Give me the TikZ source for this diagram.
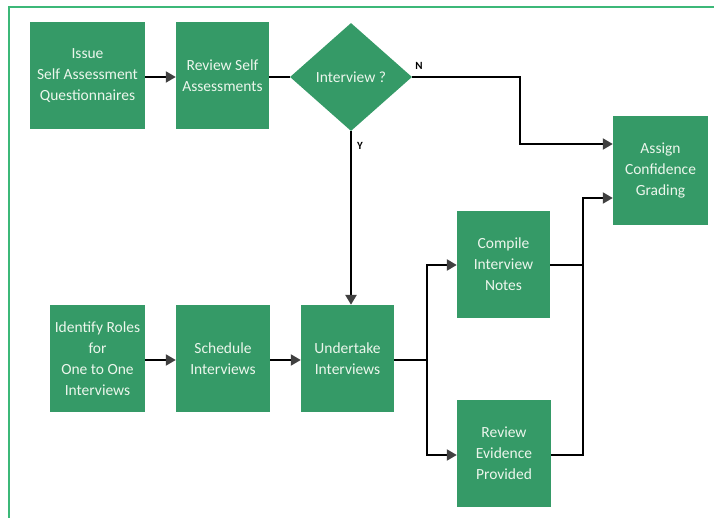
\documentclass[tikz,border=0pt]{standalone}
\usepackage{fontspec}
\setmainfont{Carlito}
\usetikzlibrary{arrows.meta,shapes.geometric}
\definecolor{boxgreen}{RGB}{53,154,103}
\definecolor{framegreen}{RGB}{60,184,120}
\definecolor{tipgray}{RGB}{64,64,64}
\definecolor{txt}{RGB}{236,246,236}
\tikzset{
  procbox/.style={rectangle, fill=boxgreen, draw=none, inner sep=0pt, align=center,
    text=txt, font=\fontsize{15.5}{21}\selectfont},
  decbox/.style={diamond, fill=boxgreen, draw=none, inner sep=0pt, align=center,
    text=txt, font=\fontsize{15.5}{21}\selectfont, minimum width=122pt, minimum height=108pt},
  conn/.style={draw=black, line width=2pt},
  arr/.style={conn, -{Triangle[length=10pt,width=11pt,color=tipgray]}},
  lbl/.style={font=\bfseries\fontsize{11}{12}\selectfont, text=black, inner sep=0pt}
}
\begin{document}
\begin{tikzpicture}[x=1pt,y=-1pt]
\useasboundingbox (0,0) rectangle (714,518);
\draw[framegreen, line width=2.2pt] (9,518) -- (9,7) -- (714,7);

\node[procbox, minimum width=115pt, minimum height=107pt] (issue) at (87.5,75.5) {Issue\\Self Assessment\\Questionnaires};
\node[procbox, minimum width=93pt, minimum height=107pt] (revself) at (222.5,75.5) {Review Self\\Assessments};
\node[decbox] (dec) at (351,77) {Interview ?};
\node[procbox, minimum width=95pt, minimum height=109pt] (assign) at (660.5,170.5) {Assign\\Confidence\\Grading};
\node[procbox, minimum width=93pt, minimum height=107pt] (compile) at (503.5,264.5) {Compile\\Interview\\Notes};
\node[procbox, minimum width=94pt, minimum height=107pt] (revevid) at (504,453.5) {Review\\Evidence\\Provided};
\node[procbox, minimum width=95pt, minimum height=107pt] (identify) at (97.5,358.5) {Identify Roles\\for\\One to One\\Interviews};
\node[procbox, minimum width=94pt, minimum height=107pt] (schedule) at (223,358.5) {Schedule\\Interviews};
\node[procbox, minimum width=93pt, minimum height=107pt] (undertake) at (347.5,358.5) {Undertake\\Interviews};

\coordinate (nbend1) at (520,77);
\coordinate (nbend2) at (520,144);
\coordinate (split) at (427,360);
\coordinate (splittop) at (427,265);
\coordinate (splitbot) at (427,455);
\coordinate (jointop) at (583,265);
\coordinate (joinbot) at (583,455);
\coordinate (joinend) at (583,198);

\draw[arr] (issue.east |- 0,77) -- (revself.west |- 0,77);
\draw[conn] (revself.east |- 0,77) -- (dec.west);
\draw[arr] (dec.east) -- (nbend1) -- (nbend2) -- (assign.west |- nbend2);
\draw[arr, line width=2.8pt] (dec.south) -- (undertake.north -| dec.south);
\node[lbl] (nlab) at (419,66) {N};
\node[lbl] (ylab) at (360,146) {Y};

\draw[arr] (identify.east |- 0,360) -- (schedule.west |- 0,360);
\draw[arr] (schedule.east |- 0,360) -- (undertake.west |- 0,360);

\draw[conn] (undertake.east |- split) -- (split);
\draw[arr, line width=2.4pt] (split) -- (splittop) -- (compile.west |- splittop);
\draw[arr] (split) -- (splitbot) -- (revevid.west |- splitbot);
\draw[conn, line width=2.8pt] (compile.east |- jointop) -- (jointop);
\draw[conn] (revevid.east |- joinbot) -- (joinbot) -- (jointop);
\draw[arr] (jointop) -- (joinend) -- (assign.west |- joinend);
\end{tikzpicture}
\end{document}
